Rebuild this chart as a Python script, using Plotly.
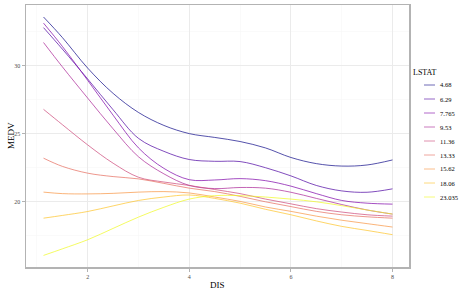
import plotly.graph_objects as go

dis = [1.13, 1.5, 2.0, 2.5, 3.0, 3.5, 4.0, 4.5, 5.0, 5.5, 6.0, 6.5, 7.0, 7.5, 8.0]

lstat_labels = ["4.68", "6.29", "7.765", "9.53", "11.36", "13.33", "15.62", "18.06", "23.035"]

medv_4_68 = [33.55, 32.05, 29.8, 27.95, 26.55, 25.6, 25.0, 24.72, 24.42, 23.95, 23.25, 22.8, 22.62, 22.7, 23.07]
medv_6_29 = [32.77, 31.2, 29.0, 26.75, 24.65, 23.7, 23.1, 22.97, 22.95, 22.5, 21.9, 21.2, 20.8, 20.7, 20.95]
medv_7_765 = [33.1, 31.4, 28.9, 26.35, 23.95, 22.45, 21.62, 21.6, 21.7, 21.55, 21.15, 20.6, 20.1, 19.9, 19.83]
medv_9_53 = [31.68, 29.9, 27.6, 25.35, 23.3, 22.05, 21.2, 20.97, 21.05, 21.0, 20.7, 20.25, 19.8, 19.4, 19.1]
medv_11_36 = [26.78, 25.66, 24.17, 22.83, 21.8, 21.45, 21.2, 20.9, 20.6, 20.2, 19.85, 19.5, 19.25, 19.05, 18.95]
medv_13_33 = [23.2, 22.6, 22.1, 21.85, 21.68, 21.35, 21.0, 20.75, 20.4, 20.0, 19.65, 19.3, 19.05, 18.9, 18.8]
medv_15_62 = [20.71, 20.6, 20.58, 20.62, 20.71, 20.75, 20.65, 20.35, 20.03, 19.62, 19.3, 18.95, 18.65, 18.4, 18.15]
medv_18_06 = [18.8, 19.0, 19.29, 19.7, 20.1, 20.35, 20.5, 20.25, 19.9, 19.45, 19.05, 18.6, 18.2, 17.9, 17.59]
medv_23_035 = [16.07, 16.55, 17.22, 18.05, 18.88, 19.6, 20.2, 20.45, 20.45, 20.35, 20.2, 20.0, 19.72, 19.4, 19.1]

series = [medv_4_68, medv_6_29, medv_7_765, medv_9_53, medv_11_36,
          medv_13_33, medv_15_62, medv_18_06, medv_23_035]

plasma9 = ["#0D0887", "#4C02A1", "#7E03A8", "#A92395", "#CC4678",
           "#E56B5D", "#F89441", "#FDC328", "#F0F921"]

def rgba(h, a):
    h = h.lstrip("#")
    r, g, b = int(h[0:2], 16), int(h[2:4], 16), int(h[4:6], 16)
    return f"rgba({r},{g},{b},{a})"

FONT = "Liberation Serif"
W, H = 467, 292
L, R, T, B = 26, 58, 5, 25
PW, PH = W - L - R, H - T - B

def px_x(px):
    return (px - L) / PW

def px_y(py):
    return (H - B - py) / PH

fig = go.Figure()
for lab, vals, col in zip(lstat_labels, series, plasma9):
    fig.add_trace(go.Scatter(
        x=dis, y=vals, mode="lines", name=lab, showlegend=False,
        line=dict(color=rgba(col, 0.7), width=1, shape="spline", smoothing=1.0),
        hoverinfo="skip",
    ))

grid_major = "#ebebeb"
grid_minor = "#f5f5f5"
border = "#b3b3b3"

shapes = []
annotations = []

# manual legend (ggplot-style compact spacing)
annotations.append(dict(
    text="LSTAT", xref="paper", yref="paper", x=px_x(411), y=px_y(72),
    xanchor="left", yanchor="middle", showarrow=False,
    font=dict(family=FONT, size=8, color="black"),
))
for i, (lab, col) in enumerate(zip(lstat_labels, plasma9)):
    yy = px_y(85 + 14 * i)
    shapes.append(dict(
        type="line", xref="paper", yref="paper",
        x0=px_x(424), x1=px_x(435), y0=yy, y1=yy,
        line=dict(color=rgba(col, 0.6), width=1),
    ))
    annotations.append(dict(
        text=lab, xref="paper", yref="paper", x=px_x(438), y=yy,
        xanchor="left", yanchor="middle", showarrow=False,
        font=dict(family=FONT, size=6.5, color="black"),
    ))

# axis titles
annotations.append(dict(
    text="DIS", xref="paper", yref="paper", x=0.5, y=px_y(285),
    xanchor="center", yanchor="middle", showarrow=False,
    font=dict(family=FONT, size=9, color="black"),
))
annotations.append(dict(
    text="MEDV", xref="paper", yref="paper", x=px_x(11), y=0.5,
    xanchor="center", yanchor="middle", showarrow=False, textangle=-90,
    font=dict(family=FONT, size=9, color="black"),
))

fig.update_layout(
    width=W, height=H,
    margin=dict(l=L, r=R, t=T, b=B, autoexpand=False),
    paper_bgcolor="white", plot_bgcolor="white",
    font=dict(family=FONT, color="#4d4d4d", size=7),
    showlegend=False,
    hovermode=False,
    shapes=shapes,
    annotations=annotations,
)

fig.update_xaxes(
    range=[0.785, 8.325], tick0=0, dtick=2,
    showgrid=True, gridcolor=grid_major, gridwidth=1,
    minor=dict(showgrid=True, gridcolor=grid_minor, gridwidth=0.5, dtick=1, tick0=0),
    showline=True, mirror=True, linecolor=border, linewidth=1.5,
    ticks="outside", ticklen=3, tickcolor=border, tickwidth=1,
    tickfont=dict(family=FONT, size=6, color="#4d4d4d"),
    automargin=False, zeroline=False,
)
fig.update_yaxes(
    range=[15.22, 34.43], tick0=0, dtick=5,
    showgrid=True, gridcolor=grid_major, gridwidth=1,
    minor=dict(showgrid=True, gridcolor=grid_minor, gridwidth=0.5, dtick=2.5, tick0=0),
    showline=True, mirror=True, linecolor=border, linewidth=1.5,
    ticks="outside", ticklen=3, tickcolor=border, tickwidth=1,
    tickfont=dict(family=FONT, size=6, color="#4d4d4d"),
    automargin=False, zeroline=False,
)

fig.write_html(
    "out.html",
    config={"displayModeBar": False, "staticPlot": True},
    post_script="document.body.style.margin='0';document.body.style.padding='0';",
)
